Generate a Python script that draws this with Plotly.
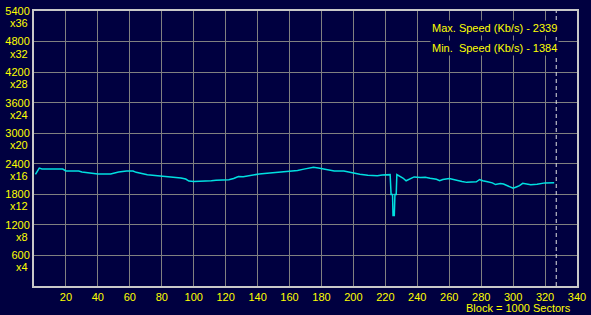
import plotly.graph_objects as go

# ---- data ----
block = [0.9, 2, 3.3, 5, 18, 20, 28, 30, 35, 40, 48, 50, 53, 58, 62, 64, 67, 71, 79, 87,
         92, 95, 97, 100, 108, 111, 114, 122, 125, 128, 131, 134, 138, 141, 146, 150, 155,
         160, 165, 169, 172, 175, 178, 181, 184, 188, 194, 197, 200, 204, 209, 213, 215,
         218, 223, 223.6, 224.5, 224.8, 225.6, 226, 226.8, 227.2, 229, 231, 233, 235, 236.4,
         238, 242, 245, 248, 252, 254, 256, 260, 264, 268, 271, 274, 277, 279, 281, 284,
         287, 289, 292, 294, 296, 298, 300, 302, 304, 306, 308, 311, 315, 320, 325.7]
speed = [2193, 2260, 2316, 2297, 2297, 2258, 2258, 2239, 2213, 2200, 2200, 2220, 2239, 2258,
         2258, 2232, 2210, 2185, 2160, 2140, 2120, 2100, 2060, 2053, 2053, 2066, 2075, 2085,
         2110, 2150, 2145, 2165, 2185, 2200, 2213, 2225, 2235, 2258, 2270, 2295, 2320, 2330,
         2318, 2300, 2280, 2260, 2258, 2239, 2213, 2193, 2174, 2160, 2165, 2180, 2187, 1797,
         1797, 1384, 1384, 1797, 1797, 2187, 2160, 2120, 2066, 2091, 2123, 2142, 2130, 2136,
         2116, 2097, 2066, 2091, 2110, 2075, 2050, 2035, 2040, 2046, 2091, 2066, 2046, 2025,
         1992, 2012, 2002, 1975, 1948, 1920, 1945, 1970, 2015, 2002, 1990, 2000, 2025, 2027]

x_ticks = list(range(20, 341, 20))
y_ticks = list(range(600, 5401, 600))
y_mult = ["x4", "x8", "x12", "x16", "x20", "x24", "x28", "x32", "x36"]
end_block = 327
max_label = "Max. Speed (Kb/s) - 2339"
min_label = "Min.  Speed (Kb/s) - 1384"
unit_label = "Block = 1000 Sectors"

BG = "#000040"
YEL = "#ffff00"
FONT = "Liberation Sans"

fig = go.Figure()
fig.add_trace(go.Scatter(x=block, y=speed, mode="lines",
                         line=dict(color="#00e0e0", width=1.5), hoverinfo="skip"))

fig.update_layout(
    width=591, height=315,
    margin=dict(l=30, r=10, t=5, b=29),
    paper_bgcolor=BG, plot_bgcolor=BG,
    showlegend=False,
    font=dict(family=FONT, size=11, color=YEL),
)
fig.update_xaxes(range=[0, 340], tickvals=x_ticks, ticktext=[str(v) for v in x_ticks],
                 showgrid=True, gridcolor="#808080", gridwidth=1, zeroline=False,
                 showline=True, linecolor="#c8c8c8", linewidth=2, mirror=True,
                 ticks="", tickfont=dict(color=YEL, size=11, family=FONT))
fig.update_yaxes(range=[0, 5400], tickvals=y_ticks, ticktext=[str(v) for v in y_ticks],
                 showgrid=True, gridcolor="#808080", gridwidth=1, zeroline=False,
                 showline=True, linecolor="#c8c8c8", linewidth=2, mirror=True,
                 ticks="", tickfont=dict(color=YEL, size=11, family=FONT))

for v, m in zip(y_ticks, y_mult):
    fig.add_annotation(x=0, xref="paper", y=v, yref="y", text=m, showarrow=False,
                       xanchor="right", yanchor="middle", xshift=-4, yshift=-12,
                       font=dict(color=YEL, size=11, family=FONT))

fig.add_shape(type="line", x0=end_block, x1=end_block, y0=0, y1=1, xref="x", yref="paper",
              line=dict(color="#e0e0e0", width=1, dash="4px,3px"))

fig.add_annotation(x=563, xref="x domain" if False else "paper", y=1, yref="paper",
                   text=max_label, showarrow=False, xanchor="right", yanchor="middle",
                   font=dict(color=YEL, size=11, family=FONT), bgcolor=BG)
fig.layout.annotations[-1].update(x=(563 - 30) / 551, y=(286 - 22.7) / 281)
fig.add_annotation(x=(563 - 30) / 551, xref="paper", y=(286 - 42.7) / 281, yref="paper",
                   text=min_label, showarrow=False, xanchor="right", yanchor="middle",
                   font=dict(color=YEL, size=11, family=FONT), bgcolor=BG)
fig.add_annotation(x=(577 - 30) / 551, xref="paper", y=(286 - 308.3) / 281, yref="paper",
                   text=unit_label, showarrow=False, xanchor="right", yanchor="middle",
                   font=dict(color=YEL, size=11, family=FONT))

fig.write_html("out.html")
